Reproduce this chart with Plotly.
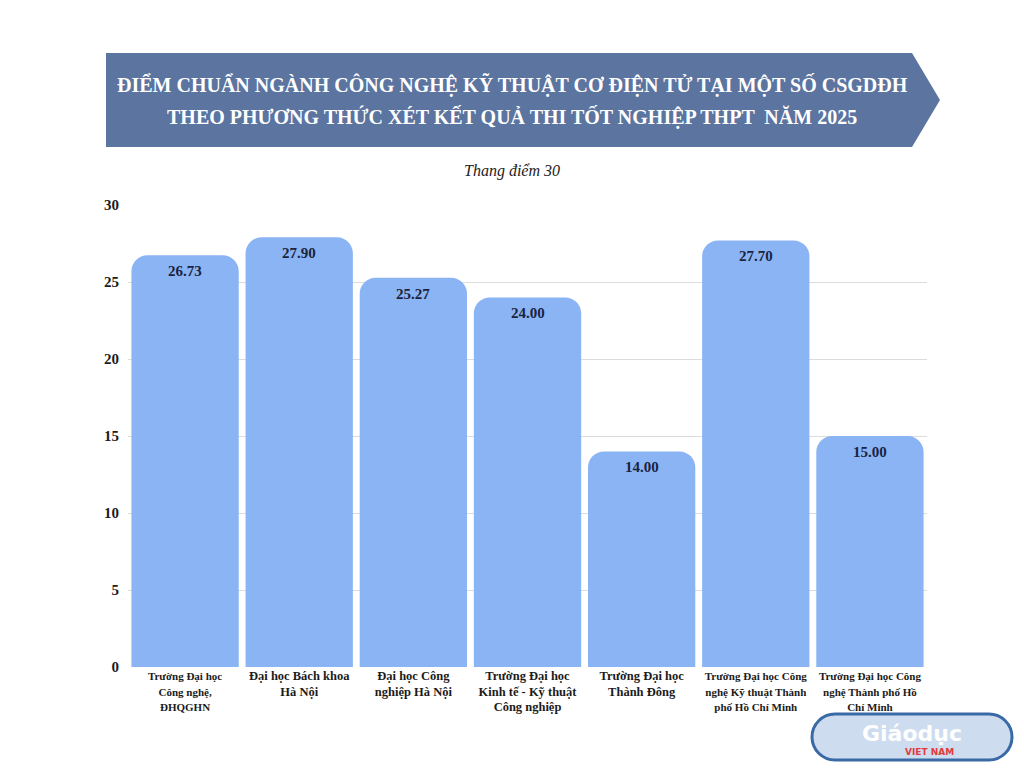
import plotly.graph_objects as go

categories = [
    "Trường Đại học<br>Công nghệ,<br>ĐHQGHN",
    "Đại học Bách khoa<br>Hà Nội",
    "Đại học Công<br>nghiệp Hà Nội",
    "Trường Đại học<br>Kinh tế - Kỹ thuật<br>Công nghiệp",
    "Trường Đại học<br>Thành Đông",
    "Trường Đại học Công<br>nghệ Kỹ thuật Thành<br>phố Hồ Chí Minh",
    "Trường Đại học Công<br>nghệ Thành phố Hồ<br>Chí Minh",
]
label_sizes = [11, 12.5, 12.5, 12.5, 12.5, 11, 11]
scores = [26.73, 27.90, 25.27, 24.00, 14.00, 27.70, 15.00]
y_ticks = [0, 5, 10, 15, 20, 25, 30]

title_lines = [
    "ĐIỂM CHUẨN NGÀNH CÔNG NGHỆ KỸ THUẬT CƠ ĐIỆN TỬ TẠI MỘT SỐ CSGDĐH",
    "THEO PHƯƠNG THỨC XÉT KẾT QUẢ THI TỐT NGHIỆP THPT  NĂM 2025",
]
subtitle = "Thang điểm 30"

SERIF = "Liberation Serif"

tick_text = [f'<span style="font-size:{s}px">{c}</span>' for c, s in zip(categories, label_sizes)]

fig = go.Figure()
fig.add_trace(go.Bar(
    x=list(range(len(categories))),
    y=scores,
    marker=dict(color="#8ab4f3", cornerradius=16, line=dict(width=0)),
    hoverinfo="skip",
))

L, R, T, B = 128, 97, 205, 101
W, H = 1024, 768
pw, ph = W - L - R, H - T - B

def px(x):
    return (x - L) / pw

def py(y):
    return (H - B - y) / ph

banner = (f"M {px(106)},{py(53)} L {px(912)},{py(53)} L {px(940)},{py(100)} "
          f"L {px(912)},{py(147)} L {px(106)},{py(147)} Z")

# logo pill with rounded ends
x0, x1, y0, y1 = 812, 1012, 714, 760
r = (y1 - y0) / 2
k = 0.55 * r
pill = (f"M {px(x0 + r)},{py(y0)} L {px(x1 - r)},{py(y0)} "
        f"C {px(x1 - r + k)},{py(y0)} {px(x1)},{py(y0 + r - k)} {px(x1)},{py(y0 + r)} "
        f"C {px(x1)},{py(y1 - r + k)} {px(x1 - r + k)},{py(y1)} {px(x1 - r)},{py(y1)} "
        f"L {px(x0 + r)},{py(y1)} "
        f"C {px(x0 + r - k)},{py(y1)} {px(x0)},{py(y1 - r + k)} {px(x0)},{py(y1 - r)} "
        f"C {px(x0)},{py(y0 + r - k)} {px(x0 + r - k)},{py(y0)} {px(x0 + r)},{py(y0)} Z")

shapes = [
    dict(type="path", xref="paper", yref="paper", path=banner,
         fillcolor="#5b74a0", line=dict(width=0), layer="above"),
    dict(type="path", xref="paper", yref="paper", path=pill,
         fillcolor="#cddcee", line=dict(color="#3a6aa6", width=3), layer="above"),
]

annotations = [
    dict(text=title_lines[0], xref="paper", yref="paper", x=px(512), y=py(85),
         showarrow=False, xanchor="center", yanchor="middle",
         font=dict(family=SERIF, size=20, color="white", weight="bold")),
    dict(text=title_lines[1], xref="paper", yref="paper", x=px(512), y=py(117),
         showarrow=False, xanchor="center", yanchor="middle",
         font=dict(family=SERIF, size=20, color="white", weight="bold")),
    dict(text=f"<i>{subtitle}</i>", xref="paper", yref="paper", x=px(512), y=py(171),
         showarrow=False, xanchor="center", yanchor="middle",
         font=dict(family=SERIF, size=16, color="#222222")),
    dict(text="<b>Giáodục</b>", xref="paper", yref="paper", x=px(912), y=py(733),
         showarrow=False, xanchor="center", yanchor="middle",
         font=dict(family="DejaVu Sans", size=22, color="white")),
    dict(text="<b>VIET NAM</b>", xref="paper", yref="paper", x=px(930), y=py(752),
         showarrow=False, xanchor="center", yanchor="middle",
         font=dict(family="DejaVu Sans", size=9, color="#e23b3b")),
]

# value labels just below each bar top, placed in data coordinates
for i, v in enumerate(scores):
    annotations.append(dict(
        text=f"{v:.2f}", x=i, y=v, xref="x", yref="y",
        showarrow=False, xanchor="center", yanchor="top", yshift=-6,
        font=dict(family=SERIF, size=15, color="#1b2340", weight="bold"),
    ))

fig.update_layout(
    width=W, height=H,
    margin=dict(l=L, r=R, t=T, b=B, pad=0),
    paper_bgcolor="white", plot_bgcolor="white",
    bargap=0.06,
    showlegend=False,
    shapes=shapes,
    annotations=annotations,
    xaxis=dict(
        tickmode="array", tickvals=list(range(len(categories))), ticktext=tick_text,
        range=[-0.5, len(categories) - 0.5],
        showgrid=False, zeroline=False, showline=False, ticks="",
        tickfont=dict(family=SERIF, size=12, color="#1b1b1b", weight="bold"),
        fixedrange=True,
    ),
    yaxis=dict(
        range=[0, 30], tickmode="array", tickvals=y_ticks,
        showgrid=True, gridcolor="#dcdcdc", gridwidth=1,
        zeroline=False, showline=False, ticks="",
        ticklabelstandoff=8,
        tickfont=dict(family=SERIF, size=15, color="#1b1b1b", weight="bold"),
        fixedrange=True,
    ),
)

fig.write_html("out.html")
